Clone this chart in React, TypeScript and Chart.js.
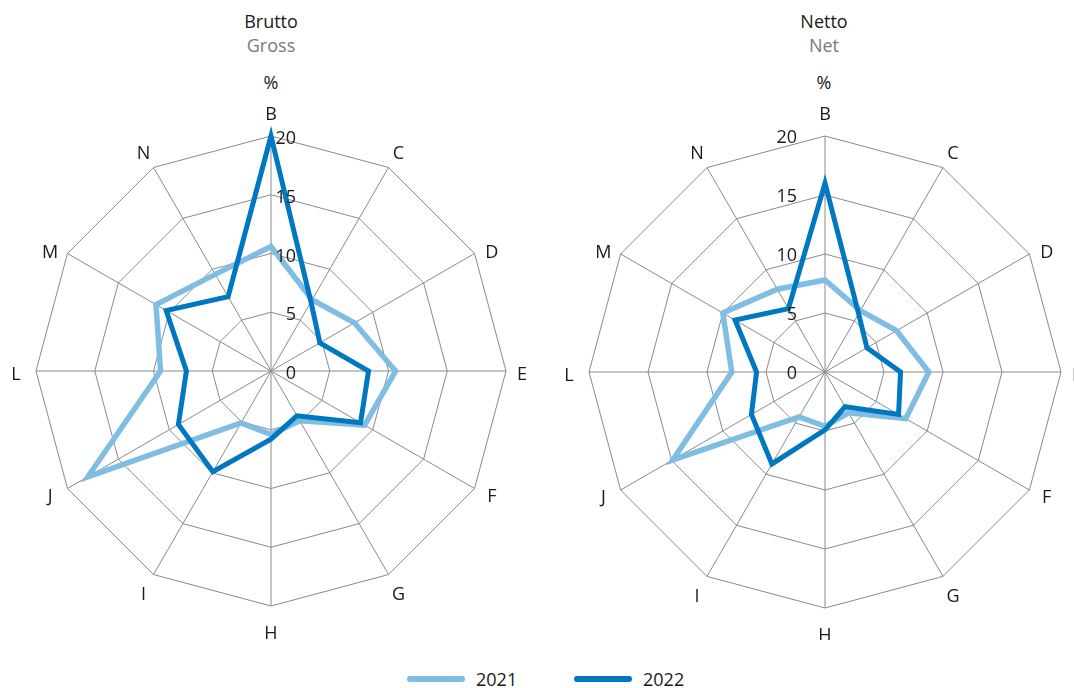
import React, { useEffect, useRef } from "react";
import { Chart, registerables } from "chart.js";

Chart.register(...registerables);

const categories = ["B", "C", "D", "E", "F", "G", "H", "I", "J", "L", "M", "N"];
const tickValues = [0, 5, 10, 15, 20];
const seriesLabels = ["2021", "2022"];

const gross2021 = [10.6, 7.0, 8.2, 10.6, 9.2, 4.9, 5.4, 5.1, 18.0, 9.4, 11.3, 9.5];
const gross2022 = [20.0, 6.8, 4.8, 8.3, 8.8, 4.4, 5.8, 9.9, 9.1, 7.2, 10.3, 7.3];
const net2021 = [7.8, 6.0, 7.0, 8.8, 7.9, 4.0, 4.6, 4.4, 14.9, 7.9, 10.0, 8.1];
const net2022 = [16.0, 5.7, 4.1, 6.4, 7.2, 3.4, 4.9, 9.0, 7.2, 5.8, 8.8, 6.2];

const FONT = "'Open Sans', 'Noto Sans', sans-serif";
const FS = 18;
const LIGHT = "#7fbde3";
const DARK = "#0077c1";
const GRID = "#8a8a8a";
const TEXT = "#1a1a1a";
const SIZE = 536;

const sideTicks = {
  id: "sideTicks",
  afterDatasetsDraw(chart: any, _args: any, opts: any) {
    const scale = chart.scales.r;
    const ctx = chart.ctx;
    ctx.save();
    ctx.font = `${FS}px ${FONT}`;
    ctx.fillStyle = TEXT;
    ctx.textBaseline = "middle";
    // tick labels beside the first axis
    ctx.textAlign = "right";
    tickValues.forEach((v) => {
      const d = scale.getDistanceFromCenterForValue(v);
      const p = scale.getPointPosition(0, d);
      ctx.fillText(String(v), p.x + opts.dx, p.y + opts.dy);
    });
    // category labels centred around the outer ring
    ctx.textAlign = "center";
    const labels = chart.data.labels as string[];
    labels.forEach((lab, i) => {
      const a = scale.getIndexAngle(i);
      const s = Math.sin(a);
      const c = Math.cos(a);
      const r = scale.drawingArea + 20;
      let x = scale.xCenter + s * r;
      let y = scale.yCenter - c * r + 3.5;
      const ac = Math.abs(c);
      if (ac > 0.99) y -= Math.sign(c) * 4.5;
      else if (ac > 0.4 && ac < 0.6) y += Math.sign(c) * 5.5;
      if (s > 0.99) x -= 4;
      ctx.fillText(lab, x, y);
    });
    ctx.restore();
  },
};

function Radar(props: { left: number; top: number; pad: number; v2021: number[]; v2022: number[]; dx: number; dy: number }) {
  const ref = useRef<HTMLCanvasElement>(null);
  useEffect(() => {
    const chart = new Chart(ref.current as HTMLCanvasElement, {
      type: "radar",
      data: {
        labels: categories,
        datasets: [
          { label: seriesLabels[1], data: props.v2022, borderColor: DARK, backgroundColor: DARK, borderWidth: 5, pointRadius: 0, fill: false, tension: 0, order: 0 },
          { label: seriesLabels[0], data: props.v2021, borderColor: LIGHT, backgroundColor: LIGHT, borderWidth: 5.5, pointRadius: 0, fill: false, tension: 0, order: 1 },
        ],
      },
      options: {
        responsive: false,
        animation: false,
        layout: { padding: props.pad },
        plugins: {
          legend: { display: false },
          tooltip: { enabled: false },
          sideTicks: { dx: props.dx, dy: props.dy },
        } as any,
        scales: {
          r: {
            min: 0,
            max: 20,
            ticks: { display: false, stepSize: 5 },
            grid: { color: GRID, lineWidth: 1 },
            angleLines: { color: GRID, lineWidth: 1 },
            pointLabels: { display: false },
          },
        },
      },
      plugins: [sideTicks],
    } as any);
    return () => chart.destroy();
  }, []);
  return (
    <canvas
      ref={ref}
      width={SIZE}
      height={SIZE}
      style={{ position: "absolute", left: props.left, top: props.top, width: SIZE, height: SIZE }}
    />
  );
}

function Label(props: { x: number; y: number; text: string; color?: string }) {
  return (
    <div
      style={{
        position: "absolute",
        left: props.x - 100,
        top: props.y - 12,
        width: 200,
        height: 24,
        lineHeight: "24px",
        textAlign: "center",
        fontSize: FS,
        color: props.color || TEXT,
        whiteSpace: "nowrap",
      }}
    >
      {props.text}
    </div>
  );
}

function LegendItem(props: { x: number; color: string; text: string }) {
  return (
    <div style={{ position: "absolute", left: props.x, top: 667, height: 24, display: "flex", alignItems: "center" }}>
      <div style={{ width: 58, height: 6, borderRadius: 3, background: props.color }} />
      <span style={{ marginLeft: 11, fontSize: FS, color: TEXT, lineHeight: "24px" }}>{props.text}</span>
    </div>
  );
}

export default function App() {
  return (
    <div
      style={{
        position: "absolute",
        left: 0,
        top: 0,
        width: 1074,
        height: 688,
        overflow: "hidden",
        background: "#ffffff",
        fontFamily: FONT,
      }}
    >
      <Label x={271} y={21} text="Brutto" />
      <Label x={271} y={45} text="Gross" color="#7a7a7a" />
      <Label x={271} y={82} text="%" />
      <Label x={824} y={21} text="Netto" />
      <Label x={824} y={45} text="Net" color="#7a7a7a" />
      <Label x={824} y={82} text="%" />
      <Radar left={3} top={103} pad={33} v2021={gross2021} v2022={gross2022} dx={25} dy={3} />
      <Radar left={557} top={104} pad={32} v2021={net2021} v2022={net2022} dx={-28} dy={2} />
      <LegendItem x={407} color={LIGHT} text={seriesLabels[0]} />
      <LegendItem x={574} color={DARK} text={seriesLabels[1]} />
    </div>
  );
}
